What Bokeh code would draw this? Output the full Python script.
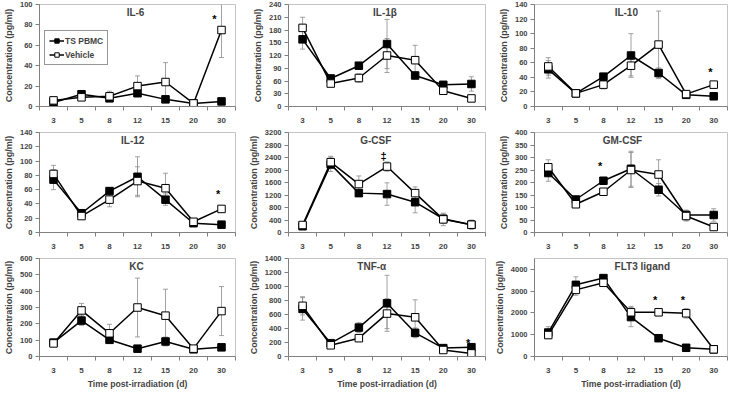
from bokeh.plotting import figure
from bokeh.layouts import gridplot
from bokeh.models import (FixedTicker, Whisker, TeeHead, ColumnDataSource,
                          Legend, LegendItem, Range1d, Label)
from bokeh.core.properties import value
from bokeh.embed import file_html
from bokeh.resources import INLINE

# ---------------- data ----------------
days = ["3", "5", "8", "12", "15", "20", "30"]

titles = ["IL-6", "IL-1β", "IL-10", "IL-12", "G-CSF", "GM-CSF", "KC", "TNF-α", "FLT3 ligand"]
y_max = [100, 240, 140, 140, 3200, 400, 600, 1400, 4500]
y_step = [20, 30, 20, 20, 400, 50, 100, 200, 1000]

il6_pbmc = [4, 12, 8, 13, 7, 3, 5]
il6_pbmc_err = [1, 2, 2, 3, 2, 1, 1]
il6_veh = [6, 9, 10, 20, 24, 3, 75]
il6_veh_err = [2, 2, 5, 10, 19, 1, 27]

il1b_pbmc = [158, 66, 96, 147, 73, 51, 53]
il1b_pbmc_err = [23, 5, 5, 58, 8, 8, 17]
il1b_veh = [185, 54, 67, 120, 109, 37, 19]
il1b_veh_err = [25, 5, 10, 40, 35, 8, 5]

il10_pbmc = [51, 18, 41, 70, 46, 16, 14]
il10_pbmc_err = [12, 2, 3, 30, 7, 2, 2]
il10_veh = [55, 18, 30, 56, 85, 17, 30]
il10_veh_err = [12, 2, 6, 14, 46, 2, 2]

il12_pbmc = [74, 27, 58, 78, 46, 13, 11]
il12_pbmc_err = [14, 3, 4, 28, 8, 2, 2]
il12_veh = [82, 23, 46, 72, 62, 15, 33]
il12_veh_err = [12, 3, 10, 20, 21, 2, 2]

gcsf_pbmc = [200, 2180, 1260, 1230, 970, 440, 250]
gcsf_pbmc_err = [50, 230, 80, 360, 340, 150, 120]
gcsf_veh = [240, 2250, 1550, 2110, 1260, 420, 250]
gcsf_veh_err = [50, 190, 260, 150, 200, 200, 150]

gmcsf_pbmc = [238, 132, 207, 255, 171, 70, 70]
gmcsf_pbmc_err = [33, 10, 13, 70, 25, 20, 25]
gmcsf_veh = [261, 113, 163, 250, 232, 66, 22]
gmcsf_veh_err = [30, 10, 13, 70, 59, 20, 10]

kc_pbmc = [85, 220, 102, 48, 92, 44, 56]
kc_pbmc_err = [10, 30, 10, 10, 27, 8, 10]
kc_veh = [80, 282, 142, 300, 250, 48, 278]
kc_veh_err = [10, 43, 55, 180, 162, 10, 150]

tnf_pbmc = [680, 190, 413, 760, 338, 120, 133]
tnf_pbmc_err = [160, 30, 70, 400, 70, 30, 30]
tnf_veh = [724, 160, 262, 613, 560, 93, 44]
tnf_veh_err = [130, 30, 50, 215, 250, 30, 20]

flt3_pbmc = [1100, 3290, 3600, 1810, 840, 400, 330]
flt3_pbmc_err = [270, 370, 100, 440, 80, 60, 50]
flt3_veh = [985, 3060, 3385, 2030, 2030, 1985, 330]
flt3_veh_err = [150, 250, 100, 270, 150, 220, 50]

pbmc_vals = [il6_pbmc, il1b_pbmc, il10_pbmc, il12_pbmc, gcsf_pbmc, gmcsf_pbmc, kc_pbmc, tnf_pbmc, flt3_pbmc]
pbmc_errs = [il6_pbmc_err, il1b_pbmc_err, il10_pbmc_err, il12_pbmc_err, gcsf_pbmc_err,
             gmcsf_pbmc_err, kc_pbmc_err, tnf_pbmc_err, flt3_pbmc_err]
veh_vals = [il6_veh, il1b_veh, il10_veh, il12_veh, gcsf_veh, gmcsf_veh, kc_veh, tnf_veh, flt3_veh]
veh_errs = [il6_veh_err, il1b_veh_err, il10_veh_err, il12_veh_err, gcsf_veh_err,
            gmcsf_veh_err, kc_veh_err, tnf_veh_err, flt3_veh_err]

# significance marks
sig_panel = ["IL-6", "IL-10", "IL-12", "G-CSF", "GM-CSF", "TNF-α", "FLT3 ligand", "FLT3 ligand"]
sig_day = ["30", "30", "30", "12", "8", "30", "15", "20"]
sig_y = [86, 47, 54, 2460, 265, 190, 2600, 2600]
sig_text = ["*", "*", "*", "‡", "*", "*", "*", "*"]

series_names = ["TS PBMC", "Vehicle"]

# ---------------- layout / style ----------------
FONT = "Liberation Sans"
col_w = [245, 246, 240]
col_left = [35, 40, 40]
col_right = [10, 6, 4]
row_h = [126, 126, 139]
row_top = [4, 6, 6]
row_bot = [20, 20, 34]
title_x = [2.93, 2.93, 2.83, 2.83, 2.6, 2.69, 2.96, 2.46, 3.41]
sig_dx = {"IL-6": -0.25}
AX = "#808080"
ERR = "#8c8c8c"

x_idx = list(range(len(days)))


def make_panel(k):
    row, col = divmod(k, 3)
    p = figure(width=col_w[col], height=row_h[row], output_backend="svg", toolbar_location=None,
               x_range=Range1d(-0.5, len(days) - 0.5), y_range=Range1d(0, y_max[k]),
               min_border_left=col_left[col], min_border_right=col_right[col],
               min_border_top=row_top[row], min_border_bottom=row_bot[row])
    p.grid.visible = False
    p.outline_line_color = "#c4c4c4"
    p.outline_line_width = 1
    p.background_fill_color = "white"

    # x axis (category style: ticks between categories)
    xa = p.xaxis[0]
    xa.ticker = FixedTicker(ticks=x_idx, minor_ticks=[i - 0.5 for i in range(len(days) + 1)])
    xa.major_label_overrides = {i: d for i, d in enumerate(days)}
    xa.major_tick_line_color = None
    xa.major_tick_out = 0
    xa.major_tick_in = 0
    xa.minor_tick_line_color = AX
    xa.minor_tick_out = 4
    xa.minor_tick_in = 0
    xa.axis_line_color = AX
    xa.major_label_standoff = 7
    xa.major_label_text_font = FONT
    xa.major_label_text_font_style = "bold"
    xa.major_label_text_font_size = "8px"
    if row == 2:
        xa.axis_label = "Time post-irradiation (d)"
        xa.axis_label_text_font = FONT
        xa.axis_label_text_font_style = "bold"
        xa.axis_label_text_font_size = "8.7px"
        xa.axis_label_standoff = 3

    # y axis
    ya = p.yaxis[0]
    ya.ticker = FixedTicker(ticks=list(range(0, y_max[k] + 1, y_step[k])))
    ya.minor_tick_line_color = None
    ya.major_tick_out = 4
    ya.major_tick_in = 0
    ya.major_tick_line_color = AX
    ya.axis_line_color = AX
    ya.major_label_standoff = 3
    ya.major_label_text_font = FONT
    ya.major_label_text_font_style = "bold"
    ya.major_label_text_font_size = "7.5px"
    ya.axis_label = "Concentration (pg/ml)"
    ya.axis_label_text_font = FONT
    ya.axis_label_text_font_style = "bold"
    ya.axis_label_text_font_size = "9px"
    ya.axis_label_standoff = 3

    # error bars
    for vals, errs in ((pbmc_vals[k], pbmc_errs[k]), (veh_vals[k], veh_errs[k])):
        src = ColumnDataSource(dict(x=x_idx,
                                    lo=[max(v - e, 0) for v, e in zip(vals, errs)],
                                    hi=[v + e for v, e in zip(vals, errs)]))
        w = Whisker(source=src, base="x", lower="lo", upper="hi", dimension="height",
                    line_color=ERR, line_width=0.8,
                    upper_head=TeeHead(size=5, line_color=ERR, line_width=0.8),
                    lower_head=TeeHead(size=5, line_color=ERR, line_width=0.8),
                    level="underlay")
        p.add_layout(w)

    # series
    l1 = p.line(x_idx, pbmc_vals[k], line_color="black", line_width=1.5)
    s1 = p.scatter(x_idx, pbmc_vals[k], marker="square", size=7.5,
                   fill_color="black", line_color="black", line_width=1)
    l2 = p.line(x_idx, veh_vals[k], line_color="black", line_width=1.5)
    s2 = p.scatter(x_idx, veh_vals[k], marker="square", size=7.5,
                   fill_color="white", line_color="black", line_width=1)

    # panel title
    p.add_layout(Label(x=title_x[k], y=y_max[k] * 0.975, text=titles[k], text_font=FONT,
                       text_font_style="bold", text_font_size="10px",
                       text_align="center", text_baseline="top"))

    # significance marks
    sx, sy, st = [], [], []
    for pn, d, yv, t in zip(sig_panel, sig_day, sig_y, sig_text):
        if pn == titles[k]:
            sx.append(days.index(d) + sig_dx.get(pn, -0.12))
            sy.append(yv)
            st.append(t)
    if sx:
        p.text(sx, sy, text=st, text_font=value(FONT), text_font_style="bold",
               text_font_size="11px", text_align="center", text_baseline="middle",
               text_color="black")

    if k == 0:
        leg = Legend(items=[LegendItem(label=series_names[0], renderers=[l1, s1]),
                            LegendItem(label=series_names[1], renderers=[l2, s2])],
                     location=(5, 41), orientation="vertical",
                     label_text_font=FONT, label_text_font_style="bold",
                     label_text_font_size="8.5px", label_standoff=1,
                     glyph_width=15, glyph_height=11, label_height=11,
                     spacing=3, padding=4, margin=0,
                     border_line_color="#303030", border_line_width=1,
                     background_fill_alpha=1)
        p.add_layout(leg)
    return p


figs = [make_panel(k) for k in range(9)]
grid = gridplot([figs[0:3], figs[3:6], figs[6:9]], toolbar_location=None)

open("out.html", "w").write(file_html(grid, INLINE))
